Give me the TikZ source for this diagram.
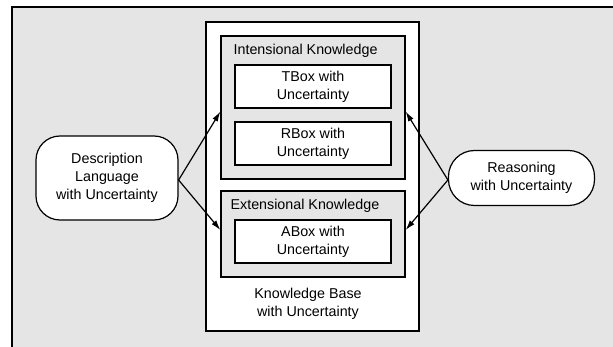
\documentclass[tikz,border=0pt]{standalone}
\usepackage{fontspec}
\setmainfont{Liberation Sans}
\usetikzlibrary{arrows.meta}

\definecolor{bggray}{RGB}{229,229,229}

\begin{document}
\begin{tikzpicture}[x=1pt,y=-1pt,line width=1.2pt,
	font=\fontsize{14.3}{18}\selectfont,
	box/.style={draw,fill=white,align=center,inner sep=0pt},
	graybox/.style={draw,fill=bggray,inner sep=0pt},
	label/.style={align=center,inner sep=0pt},
	ends/.style={draw,fill=white,align=center,inner sep=0pt},
	arr/.style={-{Latex[length=10pt,width=6pt]}}]
\useasboundingbox (0,0) rectangle (613,347);
\fill[bggray] (12,7) rectangle (613,347);
\draw (12,347) -- (12,7) -- (613,7);

\node[box,minimum width=213,minimum height=309] (kb) at (312.5,176.5) {};
\node[graybox,minimum width=184,minimum height=143] (intens) at (313,107.5) {};
\node[graybox,minimum width=184,minimum height=86] (extens) at (313,234) {};
\node[label,anchor=west] (intlab) at (233,51) {Intensional Knowledge};
\node[label,anchor=west] (extlab) at (230,206) {Extensional Knowledge};
\node[box,minimum width=156,minimum height=43] (tbox) at (313,86.5) {TBox with\\Uncertainty};
\node[box,minimum width=156,minimum height=43] (rbox) at (313,143.5) {RBox with\\Uncertainty};
\node[box,minimum width=156,minimum height=43] (abox) at (313,241.5) {ABox with\\Uncertainty};
\node[label] (kblab) at (308,304) {Knowledge Base\\with Uncertainty};

\node[ends,rounded corners=24pt,minimum width=142,minimum height=84] (desc) at (107,178) {Description\\Language\\with Uncertainty};
\node[ends,rounded corners=26pt,minimum width=146,minimum height=55] (reason) at (521.5,178) {Reasoning\\with Uncertainty};

\draw[arr] ([yshift=-2pt]desc.east) -- ([yshift=-4pt]intens.west);
\draw[arr] ([yshift=-2pt]desc.east) -- ([yshift=4pt]extens.west);
\draw[arr] ([yshift=-2pt]reason.west) -- ([yshift=-4pt]intens.east);
\draw[arr] ([yshift=-2pt]reason.west) -- ([yshift=4pt]extens.east);
\end{tikzpicture}
\end{document}
